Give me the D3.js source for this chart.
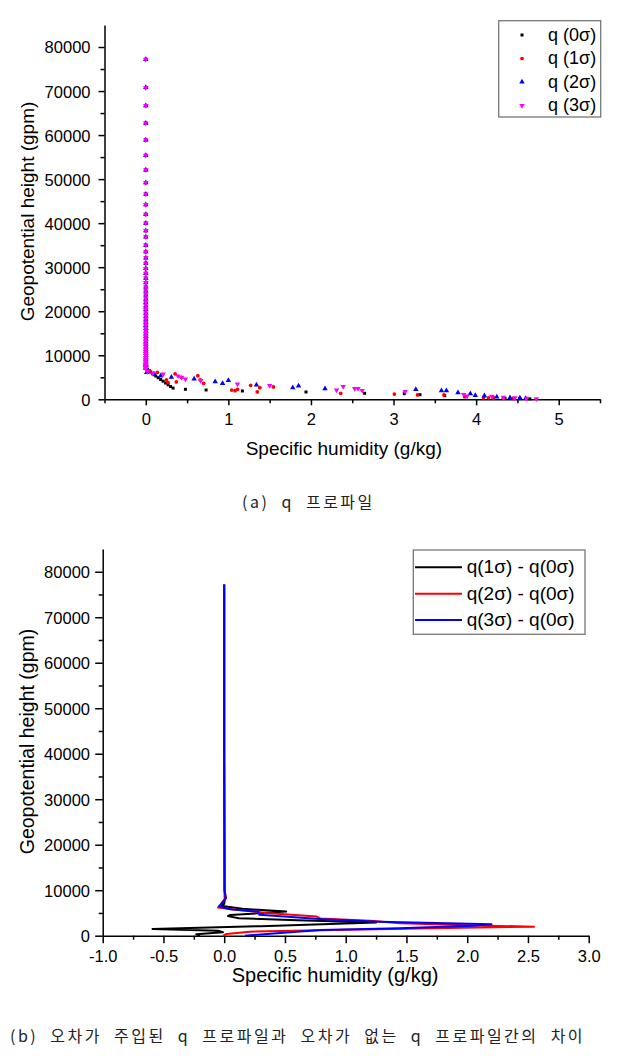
<!DOCTYPE html>
<html><head><meta charset="utf-8">
<script src="https://cdn.jsdelivr.net/npm/d3@7"></script>
<style>body{margin:0;background:#fff}svg{display:block}</style>
</head><body>
<script>
// ---------- DATA ----------
// shared column heights (gpm) where q ~ 0 for every series
const columnHeights = [77200,70800,66700,62700,58900,55400,52100,49200,46600,44200,42000,40000,38300,36900,35000,33500,32100,30900,29700,28600,27500,26500,25500,24600,23700,22800,22000,21200,20400,19600,18900,18200,17500,16800,16100,15500,14900,14300,13700,13100,12500,11900,11400,10900,10400,9900,9400,9000,8500,8100,7700,7300];
// lower profile points [q (g/kg), height (gpm)]
const q0 = [[0.0,7100],[0.02,6800],[0.04,6500],[0.06,6200],[0.08,5900],[0.1,5600],[0.12,5300],[0.15,4900],[0.18,4500],[0.21,4100],[0.24,3700],[0.27,3300],[0.3,2900],[0.33,2550],[0.48,2270],[0.73,2120],[1.17,1890],[1.94,1660],[2.65,1360],[3.13,1280],[3.32,1050],[3.62,820],[3.86,600],[4.09,450],[4.21,300],[4.35,250],[4.53,170],[4.65,100]];
const q1 = [[0.01,7500],[0.04,6500],[0.14,6130],[0.25,4390],[0.27,3780],[0.355,5750],[0.37,3930],[0.43,5000],[0.63,5370],[0.66,4390],[0.70,3630],[1.04,2110],[1.08,1970],[1.11,2270],[1.27,3180],[1.35,1660],[1.38,2640],[1.545,2800],[2.36,1360],[3.01,1200],[3.29,980],[3.61,980],[3.87,600],[4.09,400],[4.15,350],[4.21,300],[4.33,250],[4.45,200]];
const q2 = [[0.0,8000],[0.0,7000],[0.012,6130],[0.10,5750],[0.18,5300],[0.31,5000],[0.585,4610],[0.84,4000],[0.93,3630],[1.0,4310],[1.34,3250],[1.78,2640],[1.85,3020],[2.17,2410],[3.27,2270],[3.58,1970],[3.64,1970],[3.78,1510],[3.93,1280],[3.99,900],[4.10,820],[4.25,530],[4.41,380],[4.53,300],[4.6,200]];
const q3 = [[0.0,6900],[0.02,6300],[0.085,5900],[0.21,5750],[0.39,5300],[0.435,5000],[0.48,4610],[0.665,4240],[1.11,3480],[1.5,3100],[2.31,2110],[2.39,2870],[2.53,2410],[2.57,2410],[2.62,1970],[3.14,1740],[3.85,1050],[3.89,750],[4.19,680],[4.33,450],[4.47,350],[4.61,230],[4.73,130]];
const seriesNamesA = ["q (0\u03c3)","q (1\u03c3)","q (2\u03c3)","q (3\u03c3)"];

// difference profiles [dq (g/kg), height (gpm)]
const diff1 = [[0,77200],[0,40000],[0.002,20000],[0.003,10000],[0.005,8000],[0.0,7000],[-0.03,6600],[0.15,5900],[0.51,5300],[0.05,4560],[0.03,4300],[0.12,3850],[0.6,3400],[1.25,2900],[0.3,2100],[-0.59,1500],[-0.05,1100],[-0.01,750],[-0.23,300],[-0.2,0]];
const diff2 = [[0,77200],[0,40000],[0.003,10000],[0.01,8200],[-0.05,6200],[0.1,5700],[0.35,5000],[0.76,4200],[0.79,3800],[1.2,3300],[1.45,2750],[2.0,2300],[2.55,1980],[1.72,1630],[0.8,1200],[0.21,880],[0.02,370],[-0.01,0]];
const diff3 = [[0,77200],[0,40000],[0.003,10000],[0.015,8300],[-0.04,6400],[0.05,5800],[0.28,5300],[0.29,4600],[0.81,3600],[1.28,3080],[2.2,2510],[2.05,2200],[1.44,1630],[0.79,1250],[0.17,0]];
const seriesNamesB = ["q(1\u03c3) - q(0\u03c3)","q(2\u03c3) - q(0\u03c3)","q(3\u03c3) - q(0\u03c3)"];

const yTicks = [0,10000,20000,30000,40000,50000,60000,70000,80000];
const yMinor = [5000,15000,25000,35000,45000,55000,65000,75000];
const xTicksA = [0,1,2,3,4,5];
const xMinorA = [-0.5,0.5,1.5,2.5,3.5,4.5,5.5];
const xTicksB = [-1.0,-0.5,0.0,0.5,1.0,1.5,2.0,2.5,3.0];
const xMinorB = [-0.75,-0.25,0.25,0.75,1.25,1.75,2.25,2.75];
const captionA = "(a) q 프로파일";
const captionB = "(b) 오차가 주입된 q 프로파일과 오차가 없는 q 프로파일간의 차이";

// ---------- DRAW ----------
const W = 626, H = 1061;
const FONT = "'Liberation Sans', Arial, sans-serif";
const svg = d3.select("body").append("svg").attr("width", W).attr("height", H)
  .style("font-family", FONT);

function axes(g, x, y, xt, xm, yt, ym, xfmt, majLen, minLen) {
  const gx = g.append("g").attr("transform", `translate(0,${y.range()[0]})`);
  gx.call(d3.axisBottom(x).tickValues(xt).tickSize(majLen).tickSizeOuter(0).tickPadding(3).tickFormat(xfmt));
  const gxm = g.append("g").attr("transform", `translate(0,${y.range()[0]})`);
  gxm.call(d3.axisBottom(x).tickValues(xm).tickSize(minLen).tickSizeOuter(0).tickFormat(""));
  gxm.select(".domain").remove();
  const gy = g.append("g").attr("transform", `translate(${x.range()[0]},0)`);
  gy.call(d3.axisLeft(y).tickValues(yt).tickSize(majLen).tickSizeOuter(0).tickPadding(5).tickFormat(d3.format("d")));
  const gym = g.append("g").attr("transform", `translate(${x.range()[0]},0)`);
  gym.call(d3.axisLeft(y).tickValues(ym).tickSize(minLen).tickSizeOuter(0).tickFormat(""));
  gym.select(".domain").remove();
  [gx, gxm, gy, gym].forEach(a => {
    a.selectAll("path,line").attr("stroke", "#000").attr("stroke-width", 1.5);
    a.selectAll("text").attr("font-family", FONT).attr("font-size", 16.5).attr("fill", "#000");
  });
  return {gx, gy};
}

// ===== Chart A =====
const xA = d3.scaleLinear().domain([-0.5, 5.5]).range([104.5, 600]);
const yA = d3.scaleLinear().domain([0, 85000]).range([399.3, 25]);
const gA = svg.append("g");
const axA = axes(gA, xA, yA, xTicksA, xMinorA, yTicks, yMinor, d3.format("d"), 6, 4);
axA.gx.selectAll("text").attr("dy", null).attr("y", 25.5);
axA.gy.selectAll("text").attr("x", -14).attr("dy", "0.36em");

const symA = [d3.symbolSquare, d3.symbolCircle, d3.symbolTriangle, d3.symbolTriangle];
const sizeA = [9, 11, 13, 13];
const rotA = [0, 0, 0, 180];
const colors = ["#000000", "#ff0000", "#0000ff", "#ff00ff"];
const lowerA = [q0, q1, q2, q3];
lowerA.forEach((pts, i) => {
  const all = columnHeights.map(h => [0, h]).concat(pts);
  gA.append("g").selectAll("path").data(all).join("path")
    .attr("d", d3.symbol().type(symA[i]).size(sizeA[i]))
    .attr("transform", d => `translate(${xA(d[0])},${yA(d[1])}) rotate(${rotA[i]})`)
    .attr("fill", colors[i]);
});
// axis titles
gA.append("text").attr("x", 245.7).attr("y", 454.5).attr("font-size", 19).text("Specific humidity (g/kg)");
gA.append("text").attr("transform", "translate(34,211.5) rotate(-90)").attr("text-anchor", "middle")
  .attr("font-size", 19).text("Geopotential height (gpm)");
// legend A
const lgA = gA.append("g");
lgA.append("rect").attr("x", 498.7).attr("y", 20.7).attr("width", 102).attr("height", 96.3)
  .attr("fill", "#fff").attr("stroke", "#777").attr("stroke-width", 1.3);
seriesNamesA.forEach((n, i) => {
  const cy = 35 + i * 23.5;
  lgA.append("path").attr("d", d3.symbol().type(symA[i]).size(sizeA[i]))
    .attr("transform", `translate(522,${cy}) rotate(${rotA[i]})`).attr("fill", colors[i]);
  lgA.append("text").attr("x", 548).attr("y", cy + 5.5).attr("font-size", 18).text(n);
});
const CAPFONT = "'Noto Sans CJK KR', sans-serif";
svg.append("text").attr("x", 242).attr("y", 508).attr("font-family", CAPFONT)
  .attr("font-size", 16).attr("fill", "#222").attr("letter-spacing", 2.5).attr("word-spacing", 6).text(captionA);

// ===== Chart B =====
const xB = d3.scaleLinear().domain([-1, 3]).range([102.7, 588.7]);
const yB = d3.scaleLinear().domain([0, 85000]).range([935.7, 549]);
const gB = svg.append("g");
const axB = axes(gB, xB, yB, xTicksB, xMinorB, yTicks, yMinor, d => d3.format(".1f")(d).replace("\u2212", "-"), 7.5, 4);
axB.gx.selectAll("text").attr("dy", null).attr("y", 26.3);
axB.gy.selectAll("text").attr("x", -12.7).attr("dy", "0.36em");

const lineB = d3.line().x(d => xB(d[0])).y(d => yB(d[1]));
const diffs = [diff1, diff2, diff3];
diffs.forEach((pts, i) => {
  gB.append("path").datum(pts).attr("d", lineB).attr("fill", "none")
    .attr("stroke", colors[i]).attr("stroke-width", 2).attr("stroke-linejoin", "round");
});
gB.append("text").attr("x", 231.7).attr("y", 982).attr("font-size", 20).text("Specific humidity (g/kg)");
gB.append("text").attr("transform", "translate(34,741.5) rotate(-90)").attr("text-anchor", "middle")
  .attr("font-size", 19.5).text("Geopotential height (gpm)");
const lgB = gB.append("g");
lgB.append("rect").attr("x", 413.3).attr("y", 550).attr("width", 171.7).attr("height", 84.3)
  .attr("fill", "#fff").attr("stroke", "#777").attr("stroke-width", 1.3);
seriesNamesB.forEach((n, i) => {
  const cy = 567.3 + i * 26.4;
  lgB.append("line").attr("x1", 415).attr("x2", 462).attr("y1", cy).attr("y2", cy)
    .attr("stroke", colors[i]).attr("stroke-width", 2);
  lgB.append("text").attr("x", 466.7).attr("y", cy + 6).attr("font-size", 19).text(n);
});
svg.append("text").attr("x", 10).attr("y", 1042).attr("font-family", CAPFONT)
  .attr("font-size", 16).attr("fill", "#222").attr("letter-spacing", 2.5).attr("word-spacing", 6).text(captionB);
</script>
</body></html>
